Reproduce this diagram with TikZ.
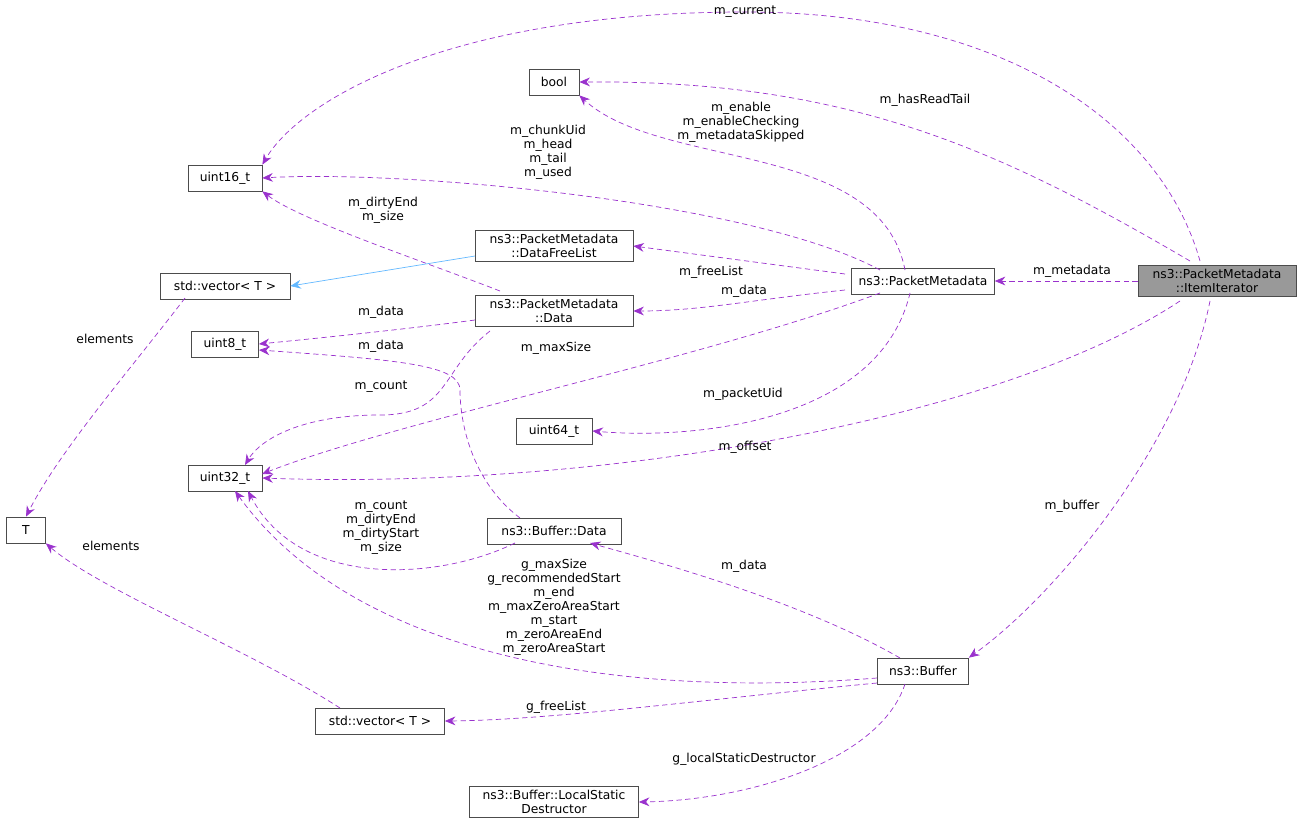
\documentclass[tikz,border=0pt]{standalone}
\usepackage{fontspec}
\setmainfont{DejaVu Sans}
\usetikzlibrary{arrows.meta}
\definecolor{edgepurple}{HTML}{9A32CD}
\definecolor{edgeblue}{HTML}{63B8FF}
\begin{document}
\begin{tikzpicture}[x=0.02cm,y=-0.02cm,
            cls/.style={draw=black!70, rectangle, font=\fontsize{7}{8}\selectfont, align=center, inner xsep=4pt, inner ysep=2pt, minimum height=26*0.02cm, fill=white},
            dep/.style={-{Stealth[length=6pt,width=5pt]}, densely dashed, edgepurple, thin},
            inh/.style={-{Stealth[length=6pt,width=5pt]}, edgeblue, thin},
            lbl/.style={font=\fontsize{7}{8}\selectfont, align=center, inner sep=1pt}
        ]
\useasboundingbox (0,0) rectangle (1301,828);

% Classes
            \node (it) [cls, fill=black!40, minimum width=158*0.02cm] at (1217,281) {ns3::PacketMetadata\\::ItemIterator};
            \node (pm) [cls] at (923,281) {ns3::PacketMetadata};
            \node (bool) [cls, minimum width=50*0.02cm] at (554,82) {bool};
            \node (u16) [cls, minimum width=74*0.02cm] at (225,178) {uint16\_t};
            \node (dfl) [cls, minimum width=158*0.02cm] at (554,246) {ns3::PacketMetadata\\::DataFreeList};
            \node (vtop) [cls, minimum width=130*0.02cm] at (225,286) {std::vector< T >};
            \node (pmd) [cls, minimum width=158*0.02cm] at (554,311) {ns3::PacketMetadata\\::Data};
            \node (u8) [cls, minimum width=67*0.02cm] at (225,344) {uint8\_t};
            \node (u64) [cls, minimum width=76*0.02cm] at (554,431) {uint64\_t};
            \node (u32) [cls, minimum width=74*0.02cm] at (225,478) {uint32\_t};
            \node (T) [cls, minimum width=39*0.02cm] at (26,530) {T};
            \node (bd) [cls, minimum width=134*0.02cm] at (554,531) {ns3::Buffer::Data};
            \node (buf) [cls, minimum width=91*0.02cm] at (923,671) {ns3::Buffer};
            \node (vbot) [cls, minimum width=129*0.02cm] at (380,721) {std::vector< T >};
            \node (lsd) [cls, minimum width=169*0.02cm] at (554,802) {ns3::Buffer::LocalStatic\\Destructor};

% Members of the iterator
            \draw [dep] (1200,261) .. controls (1160,120) and (1000,12) .. (745,12) .. controls (450,12) and (300,100) .. (u16.north east);
            \draw [dep] (1190,261) .. controls (1000,150) and (850,80) .. (bool.east);
            \draw [dep] (it.west) -- (pm.east);
            \draw [dep] (1180,301) .. controls (1000,420) and (600,490) .. (u32.east);
            \draw [dep] (1210,301) .. controls (1180,450) and (1050,600) .. (buf.north east);

% Members of the packet metadata
            \draw [dep] (905,270) .. controls (880,140) and (660,170) .. (bool.south east);
            \draw [dep] (880,270) .. controls (750,200) and (400,170) .. (u16.east);
            \draw [dep] (845,274) -- (dfl.east);
            \draw [dep] (845,290) .. controls (750,300) and (700,311) .. (pmd.east);
            \draw [dep] (880,293) .. controls (700,360) and (400,420) .. (262,474);
            \draw [dep] (910,293) .. controls (880,420) and (700,440) .. (u64.east);

% Inner data of the packet metadata
            \draw [dep] (500,291) .. controls (420,260) and (300,220) .. (u16.south east);
            \draw [dep] (475,320) .. controls (400,330) and (300,340) .. (u8.east);
            \draw [dep] (490,331) .. controls (440,370) and (450,415) .. (380,415) .. controls (300,415) and (260,440) .. (245,465);
            \draw [inh] (475,256) -- (vtop.east);
            \draw [dep] (185,298) .. controls (130,370) and (60,450) .. (T.north);

% Buffer side
            \draw [dep] (520,518) .. controls (470,480) and (460,420) .. (460,390) .. controls (460,365) and (400,360) .. (259,350);
            \draw [dep] (515,543) .. controls (440,580) and (300,590) .. (248,491);
            \draw [dep] (900,658) .. controls (800,600) and (650,560) .. (590,543);
            \draw [dep] (877,678) .. controls (600,700) and (350,650) .. (235,491);
            \draw [dep] (877,683) .. controls (700,700) and (550,720) .. (vbot.east);
            \draw [dep] (905,684) .. controls (880,760) and (750,800) .. (lsd.east);
            \draw [dep] (340,708) .. controls (250,650) and (100,590) .. (T.south east);

% Labels
            \node (l1) [lbl] at (745,12) {m\_current};
            \node (l2) [lbl] at (925,100) {m\_hasReadTail};
            \node (l3) [lbl] at (1072,271) {m\_metadata};
            \node (l4) [lbl] at (745,447) {m\_offset};
            \node (l5) [lbl] at (1072,506) {m\_buffer};
            \node (l6) [lbl] at (741,122) {m\_enable\\m\_enableChecking\\m\_metadataSkipped};
            \node (l7) [lbl] at (548,152) {m\_chunkUid\\m\_head\\m\_tail\\m\_used};
            \node (l8) [lbl] at (711,272) {m\_freeList};
            \node (l9) [lbl] at (744,291) {m\_data};
            \node (l10) [lbl] at (556,348) {m\_maxSize};
            \node (l11) [lbl] at (743,394) {m\_packetUid};
            \node (l12) [lbl] at (383,210) {m\_dirtyEnd\\m\_size};
            \node (l13) [lbl] at (381,312) {m\_data};
            \node (l14) [lbl] at (381,387) {m\_count};
            \node (l15) [lbl] at (105,339) {elements};
            \node (l16) [lbl] at (381,346) {m\_data};
            \node (l17) [lbl] at (381,528) {m\_count\\m\_dirtyEnd\\m\_dirtyStart\\m\_size};
            \node (l18) [lbl] at (744,566) {m\_data};
            \node (l19) [lbl] at (554,607) {g\_maxSize\\g\_recommendedStart\\m\_end\\m\_maxZeroAreaStart\\m\_start\\m\_zeroAreaEnd\\m\_zeroAreaStart};
            \node (l20) [lbl] at (556,707) {g\_freeList};
            \node (l21) [lbl] at (744,759) {g\_localStaticDestructor};
            \node (l22) [lbl] at (111,546) {elements};

        \end{tikzpicture}
\end{document}
